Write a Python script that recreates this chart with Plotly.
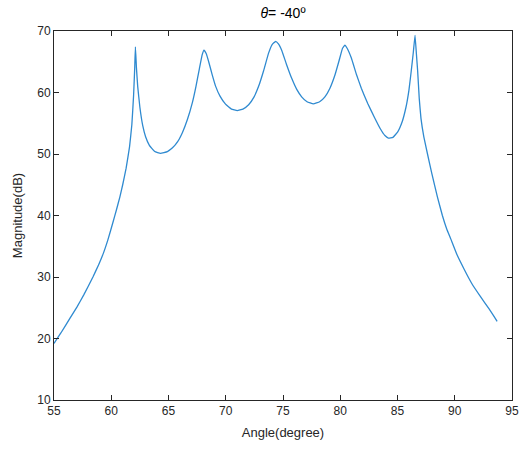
import plotly.graph_objects as go

angle = [55.0, 55.6, 56.4, 57.0, 57.6, 58.4, 58.9, 59.3, 59.7, 60.15, 60.45, 60.75, 61.0, 61.3,
         61.6, 61.8, 61.95, 62.05, 62.11, 62.2, 62.31, 62.5, 62.75, 63.0, 63.33, 63.8, 64.3,
         64.9, 65.35, 65.8, 66.22, 66.65, 67.09, 67.4, 67.7, 67.95, 68.1, 68.3, 68.54, 68.8,
         69.12, 69.5, 69.98, 70.5, 71.0, 71.5, 72.0, 72.45, 72.87, 73.3, 73.74, 74.05, 74.35,
         74.6, 74.9, 75.3, 75.76, 76.2, 76.63, 77.1, 77.65, 78.2, 78.66, 79.1, 79.53, 79.9,
         80.2, 80.4, 80.6, 80.97, 81.4, 81.84, 82.4, 83.0, 83.5, 83.9, 84.2, 84.6, 85.02, 85.4,
         85.74, 86.0, 86.2, 86.38, 86.53, 86.65, 86.76, 86.9, 87.05, 87.3, 87.62, 88.0, 88.49,
         88.92, 89.3, 89.65, 90.2, 90.81, 91.5, 92.25, 93.0, 93.7]
magnitude = [19.2, 20.9, 23.3, 25.1, 27.1, 30.0, 32.0, 33.8, 36.0, 38.9, 40.9, 43.0, 45.0, 47.7,
             51.2, 54.8, 59.5, 64.0, 67.4, 64.0, 61.0, 57.6, 54.6, 52.8, 51.4, 50.4, 50.1,
             50.4, 51.0, 52.0, 53.5, 55.6, 58.4, 61.0, 63.9, 66.2, 66.9, 66.3, 64.8, 63.0,
             61.0, 59.4, 58.1, 57.3, 57.05, 57.3, 58.0, 59.2, 61.0, 63.5, 66.4, 67.8, 68.3,
             67.9, 66.8, 64.6, 62.3, 60.5, 59.3, 58.5, 58.15, 58.5, 59.3, 60.7, 62.8, 65.2,
             67.2, 67.7, 67.2, 65.6, 63.0, 60.7, 58.2, 55.9, 54.1, 53.0, 52.6, 52.7, 53.6, 55.2,
             57.6, 60.4, 63.5, 66.5, 69.3, 66.3, 63.5, 59.0, 55.8, 52.8, 50.0, 46.8, 43.0,
             40.0, 37.8, 36.2, 33.6, 31.3, 28.9, 26.8, 24.8, 22.8]

x_ticks = [55, 60, 65, 70, 75, 80, 85, 90, 95]
y_ticks = [10, 20, 30, 40, 50, 60, 70]

axis_color = "#262626"
font_family = "Liberation Sans, Arial, Helvetica, sans-serif"

fig = go.Figure()
fig.add_trace(go.Scatter(
    x=angle, y=magnitude, mode="lines",
    line=dict(color="#2f8ad0", width=1.3, shape="spline", smoothing=0.3),
    showlegend=False, hoverinfo="x+y",
))

common_axis = dict(
    showline=True, linecolor=axis_color, linewidth=1, mirror="ticks",
    ticks="inside", ticklen=5, tickcolor=axis_color, tickwidth=1,
    showgrid=False, zeroline=False,
    tickfont=dict(family=font_family, size=12, color=axis_color),
)

fig.update_layout(
    width=531, height=450,
    margin=dict(l=54, r=16, t=31, b=48),
    paper_bgcolor="white", plot_bgcolor="white",
    font=dict(family=font_family, color=axis_color),
    title=dict(
        text="<i>θ</i>= -40º",
        x=0.5, xanchor="center", xref="paper",
        y=1, yref="container", yanchor="top", pad=dict(t=8),
        font=dict(family=font_family, size=14, color="#000000"),
    ),
    xaxis=dict(
        range=[55, 95], tickvals=x_ticks, ticktext=[str(v) for v in x_ticks],
        title=dict(text="Angle(degree)", standoff=10,
                   font=dict(family=font_family, size=13, color=axis_color)),
        **common_axis,
    ),
    yaxis=dict(
        range=[10, 70], tickvals=y_ticks, ticktext=[str(v) for v in y_ticks],
        title=dict(text="Magnitude(dB)", standoff=11,
                   font=dict(family=font_family, size=13, color=axis_color)),
        **common_axis,
    ),
)

fig.write_html("out.html")
